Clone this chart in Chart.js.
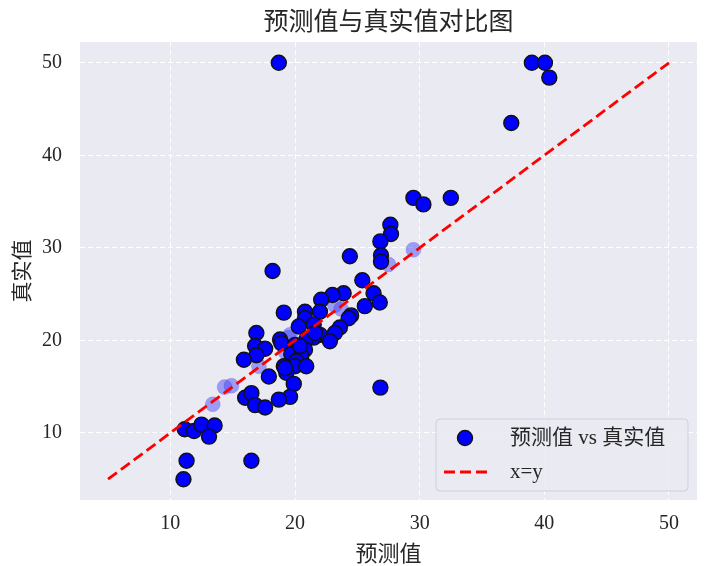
<!DOCTYPE html>
<html>
<head>
<meta charset="utf-8">
<script src="https://cdn.jsdelivr.net/npm/chart.js@4.4.0/dist/chart.umd.min.js"></script>
<style>
  html, body { margin: 0; padding: 0; background: #ffffff; }
  #wrap { width: 715px; height: 566px; }
</style>
</head>
<body>
<div id="wrap"><canvas id="c" width="715" height="566"></canvas></div>
<script>
// predicted (x) and true (y) values
const predVals = [18.7, 39.0, 40.05, 40.4, 37.35, 29.5, 30.3, 32.5, 27.65, 27.7,
  26.85, 24.4, 26.9, 26.9, 18.2, 25.4, 26.3, 25.6, 26.8, 23.9,
  23.0, 22.1, 24.5, 24.3, 19.1, 20.8, 20.8, 22.0, 20.3, 21.5,
  23.6, 23.2, 22.0, 21.5, 20.9, 22.8, 18.8, 18.9, 20.0, 20.8,
  19.7, 20.5, 20.1, 19.1, 20.0, 20.9, 19.3, 16.9, 16.8, 17.6,
  16.9, 15.9, 17.9, 19.2, 19.9, 19.6, 18.7, 16.0, 16.5, 16.8,
  17.6, 26.85, 11.15, 11.9, 12.5, 13.55, 13.1, 11.3, 16.5, 11.05,
  21.6, 20.4];
const trueVals = [50, 50, 50, 48.4, 43.5, 35.4, 34.7, 35.4, 32.5, 31.5,
  30.7, 29.1, 29.2, 28.5, 27.5, 26.5, 25.1, 23.7, 24.1, 25.1,
  24.9, 24.4, 22.7, 22.4, 23.0, 23.1, 22.4, 23.1, 21.5, 21.7,
  21.4, 20.8, 20.6, 20.3, 20.1, 19.9, 20.1, 19.7, 19.5, 19.0,
  18.5, 18.3, 17.75, 17.2, 17.2, 17.2, 16.5, 20.8, 19.4, 19.1,
  18.4, 17.9, 16.1, 17.0, 15.3, 13.9, 13.6, 13.8, 14.3, 13.0,
  12.75, 14.9, 10.4, 10.2, 10.9, 10.8, 9.6, 7.0, 7.0, 5.0,
  20.8, 19.4];

// points that show up pale in the picture
const palePred = [13.4, 14.35, 14.9, 19.5, 19.6, 19.2, 17.1, 23.2, 23.7, 29.5, 27.5];
const paleTrue = [13.1, 14.95, 15.1, 20.3, 20.6, 18.8, 17.2, 23.8, 23.4, 29.8, 28.2];

// reference line x=y
const lineVals = [5, 50];

const xTicks = [10, 20, 30, 40, 50];
const yTicks = [10, 20, 30, 40, 50];
const axisMin = 2.75, axisMax = 52.25;

const chartTitle = "预测值与真实值对比图";

const serif = "'Liberation Serif', 'Noto Sans CJK SC', serif";
const cjk = "'Noto Sans CJK SC', sans-serif";

const toPoints = (xs, ys) => xs.map((x, i) => ({ x: x, y: ys[i] }));

// plot background (seaborn darkgrid) and a title centred over the plot area
const bgPlugin = {
  id: "plotBg",
  beforeDraw(chart) {
    const { ctx, chartArea: a } = chart;
    ctx.save();
    ctx.fillStyle = "#EAEAF2";
    ctx.fillRect(a.left, a.top, a.right - a.left, a.bottom - a.top);
    ctx.fillStyle = "#262626";
    ctx.font = "25px " + cjk;
    ctx.textAlign = "center";
    ctx.textBaseline = "middle";
    ctx.fillText(chartTitle, (a.left + a.right) / 2, a.top - 22);
    ctx.restore();
  },
};

// legend box in the lower right of the plot
const legendPlugin = {
  id: "boxLegend",
  afterDatasetsDraw(chart) {
    const { ctx, chartArea: a } = chart;
    const sets = chart.data.datasets.filter((d) => !d.hideInLegend);
    const w = 252, h = 72;
    const x0 = a.right - w - 9, y0 = a.bottom - h - 9;
    ctx.save();
    ctx.beginPath();
    ctx.roundRect(x0, y0, w, h, 4);
    ctx.fillStyle = "rgba(234,234,242,0.85)";
    ctx.fill();
    ctx.strokeStyle = "#d0d0d8";
    ctx.lineWidth = 1;
    ctx.stroke();

    ctx.font = "21px " + serif;
    ctx.textBaseline = "middle";
    sets.forEach((d, i) => {
      const cy = y0 + 19 + i * 34;
      if (d.type === "line") {
        ctx.strokeStyle = d.borderColor;
        ctx.lineWidth = d.borderWidth;
        ctx.setLineDash(d.borderDash);
        ctx.beginPath();
        ctx.moveTo(x0 + 8, cy);
        ctx.lineTo(x0 + 54, cy);
        ctx.stroke();
        ctx.setLineDash([]);
      } else {
        ctx.beginPath();
        ctx.arc(x0 + 29, cy, d.pointRadius, 0, Math.PI * 2);
        ctx.fillStyle = d.backgroundColor;
        ctx.fill();
        ctx.strokeStyle = d.borderColor;
        ctx.lineWidth = d.borderWidth;
        ctx.stroke();
      }
      ctx.fillStyle = "#262626";
      ctx.fillText(d.label, x0 + 74, cy);
    });
    ctx.restore();
  },
};

new Chart(document.getElementById("c"), {
  data: {
    datasets: [
      {
        type: "scatter",
        label: "预测值 vs 真实值",
        data: toPoints(predVals, trueVals),
        backgroundColor: "#0000ff",
        borderColor: "#111111",
        borderWidth: 1.4,
        pointRadius: 7.5,
        order: 1,
      },
      {
        type: "line",
        label: "x=y",
        data: toPoints(lineVals, lineVals),
        borderColor: "#ff0000",
        borderWidth: 2.8,
        borderDash: [11, 5],
        pointRadius: 0,
        fill: false,
        order: 0,
      },
      {
        type: "scatter",
        label: "pale",
        hideInLegend: true,
        data: toPoints(palePred, paleTrue),
        backgroundColor: "rgba(60,60,255,0.45)",
        borderColor: "rgba(40,40,120,0.15)",
        borderWidth: 1,
        pointRadius: 7.5,
        order: 2,
      },
    ],
  },
  options: {
    responsive: false,
    animation: false,
    layout: { padding: { left: 0, right: 18, top: 42, bottom: 0 } },
    plugins: {
      legend: { display: false },
      tooltip: { enabled: false },
      title: { display: false },
    },
    scales: {
      x: {
        type: "linear",
        min: axisMin,
        max: axisMax,
        afterBuildTicks: (s) => { s.ticks = xTicks.map((v) => ({ value: v })); },
        afterFit: (s) => { s.height = 66; },
        border: { display: false, dash: [5, 3] },
        grid: { color: "#ffffff", lineWidth: 1, drawTicks: false },
        ticks: { color: "#262626", font: { family: serif, size: 20 }, padding: 12, maxRotation: 0 },
        title: {
          display: true,
          text: "预测值",
          color: "#262626",
          font: { family: cjk, size: 22 },
          padding: { top: 0, bottom: 0 },
        },
      },
      y: {
        type: "linear",
        min: axisMin,
        max: axisMax,
        afterBuildTicks: (s) => { s.ticks = yTicks.map((v) => ({ value: v })); },
        afterFit: (s) => { s.width = 80; },
        border: { display: false, dash: [5, 3] },
        grid: { color: "#ffffff", lineWidth: 1, drawTicks: false },
        ticks: { color: "#262626", font: { family: serif, size: 20 }, padding: 18 },
        title: {
          display: true,
          text: "真实值",
          color: "#262626",
          font: { family: cjk, size: 21 },
          padding: { top: 8, bottom: 4 },
        },
      },
    },
  },
  plugins: [bgPlugin, legendPlugin],
});
</script>
</body>
</html>
